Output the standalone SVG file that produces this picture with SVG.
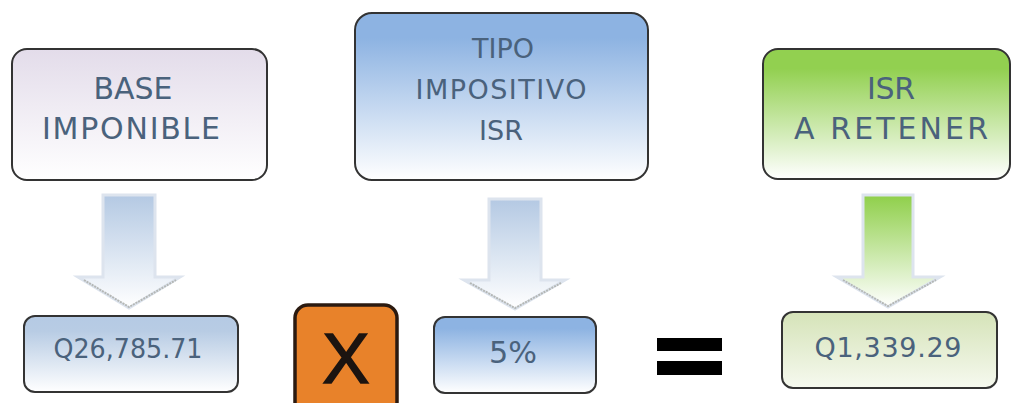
<svg xmlns="http://www.w3.org/2000/svg" width="1018" height="403" viewBox="0 0 1018 403">
  <defs>
    <linearGradient id="gLavender" x1="0" y1="0" x2="0" y2="1">
      <stop offset="0" stop-color="#e3dcea"/>
      <stop offset="1" stop-color="#ffffff"/>
    </linearGradient>
    <linearGradient id="gBlue" x1="0" y1="0" x2="0" y2="1">
      <stop offset="0" stop-color="#8db3e2"/>
      <stop offset="0.15" stop-color="#8db3e2"/>
      <stop offset="1" stop-color="#ffffff"/>
    </linearGradient>
    <linearGradient id="gGreen" x1="0" y1="0" x2="0" y2="1">
      <stop offset="0" stop-color="#92d050"/>
      <stop offset="0.15" stop-color="#92d050"/>
      <stop offset="1" stop-color="#ffffff"/>
    </linearGradient>
    <linearGradient id="gPale" x1="0" y1="0" x2="0" y2="1">
      <stop offset="0" stop-color="#b5cae4"/>
      <stop offset="0.2" stop-color="#b8cce4"/>
      <stop offset="1" stop-color="#ffffff"/>
    </linearGradient>
    <linearGradient id="gPaleGreen" x1="0" y1="0" x2="0" y2="1">
      <stop offset="0" stop-color="#d5e3b8"/>
      <stop offset="1" stop-color="#f6f9ef"/>
    </linearGradient>
    <linearGradient id="gArrowBlue" x1="0" y1="0" x2="0" y2="1">
      <stop offset="0" stop-color="#b4c9e3"/>
      <stop offset="1" stop-color="#ffffff"/>
    </linearGradient>
    <linearGradient id="gArrowGreen" x1="0" y1="0" x2="0" y2="1">
      <stop offset="0" stop-color="#8fcf4a"/>
      <stop offset="1" stop-color="#ffffff"/>
    </linearGradient>
  </defs>
  <style>
    .box { stroke: #333333; stroke-width: 2; }
    .label { font-family: "DejaVu Sans", Verdana, sans-serif; font-size: 30px; fill: #4a627c; text-anchor: middle; }
    .mid { font-size: 27px; }
    .val { font-size: 27px; }
    .big { font-size: 31px; }
    .arrow { stroke: #dde4ee; stroke-width: 3; stroke-linejoin: miter; }
    .shade { fill: none; stroke: #9a9a90; stroke-width: 2; stroke-dasharray: 2 1; opacity: 0.6; }
  </style>

  <rect width="1018" height="403" fill="#ffffff"/>

  <!-- top row -->
  <g id="base-imponible">
    <rect class="box" x="12" y="49" width="255" height="131" rx="15" fill="url(#gLavender)"/>
    <text class="label" x="133" y="99" textLength="79" lengthAdjust="spacing">BASE</text>
    <text class="label" x="131" y="139" textLength="178" lengthAdjust="spacing">IMPONIBLE</text>
  </g>

  <g id="tipo-impositivo">
    <rect class="box" x="355" y="13" width="293" height="167" rx="17" fill="url(#gBlue)"/>
    <text class="label mid" x="503" y="58">TIPO</text>
    <text class="label mid" x="501" y="99" textLength="171" lengthAdjust="spacing">IMPOSITIVO</text>
    <text class="label mid" x="501" y="140" textLength="44" lengthAdjust="spacing">ISR</text>
  </g>

  <g id="isr-retener">
    <rect class="box" x="763" y="49" width="247" height="130" rx="15" fill="url(#gGreen)"/>
    <text class="label" x="891" y="99" textLength="48" lengthAdjust="spacing">ISR</text>
    <text class="label" x="891" y="139" textLength="194" lengthAdjust="spacing">A RETENER</text>
  </g>

  <!-- block arrows from headers to values -->
  <g id="connectors">
    <g id="arrow-base">
      <path class="arrow" d="M103,195 H155 V277 H180 L129,308 L78,277 H103 Z" fill="url(#gArrowBlue)"/>
      <path class="shade" d="M84,280 L129,307 L176,280"/>
    </g>
    <g id="arrow-tipo">
      <path class="arrow" d="M489,199 H541 V280 H565 L515,309 L464,280 H489 Z" fill="url(#gArrowBlue)"/>
      <path class="shade" d="M470,283 L515,308 L561,283"/>
    </g>
    <g id="arrow-isr">
      <path class="arrow" d="M863,195 H913 V277 H940 L888,307 L837,277 H863 Z" fill="url(#gArrowGreen)"/>
      <path class="shade" d="M843,280 L888,306 L936,280"/>
    </g>
  </g>

  <!-- bottom row -->
  <g id="valor-base">
    <rect class="box" x="24" y="316" width="214" height="76" rx="11" fill="url(#gPale)"/>
    <text class="label val" x="128" y="358" textLength="149" lengthAdjust="spacingAndGlyphs">Q26,785.71</text>
  </g>

  <g id="signo-por">
    <rect x="295" y="305" width="102" height="110" rx="13" fill="#e8822a" stroke="#2b1a10" stroke-width="3.5"/>
    <text x="346" y="383" font-family="Liberation Sans, Arial, sans-serif" font-size="71" fill="#1c1410" stroke="#1c1410" stroke-width="1.5" text-anchor="middle">X</text>
  </g>

  <g id="valor-tipo">
    <rect class="box" x="434" y="317" width="162" height="76" rx="11" fill="url(#gBlue)"/>
    <text class="label big" x="513" y="363" textLength="48" lengthAdjust="spacingAndGlyphs">5%</text>
  </g>

  <g id="signo-igual">
    <rect x="657" y="338" width="65" height="13" fill="#000000"/>
    <rect x="657" y="361" width="65" height="14" fill="#000000"/>
  </g>

  <g id="valor-isr">
    <rect class="box" x="782" y="312" width="215" height="76" rx="11" fill="url(#gPaleGreen)"/>
    <text class="label val" x="888" y="357" textLength="147" lengthAdjust="spacing">Q1,339.29</text>
  </g>
</svg>
